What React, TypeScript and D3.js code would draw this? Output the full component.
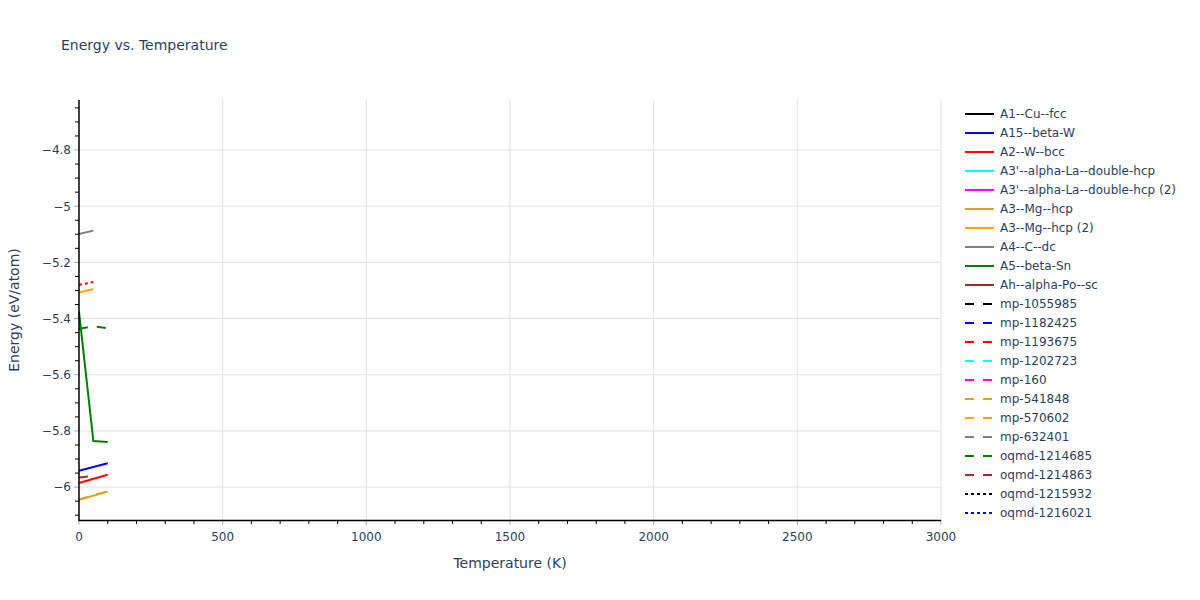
import { useEffect, useRef } from 'react'
import * as d3 from 'd3'

// Legend entries (order as shown in the reference legend)
const legendNames = [
    'A1--Cu--fcc',
    'A15--beta-W',
    'A2--W--bcc',
    "A3'--alpha-La--double-hcp",
    "A3'--alpha-La--double-hcp (2)",
    'A3--Mg--hcp',
    'A3--Mg--hcp (2)',
    'A4--C--dc',
    'A5--beta-Sn',
    'Ah--alpha-Po--sc',
    'mp-1055985',
    'mp-1182425',
    'mp-1193675',
    'mp-1202723',
    'mp-160',
    'mp-541848',
    'mp-570602',
    'mp-632401',
    'oqmd-1214685',
    'oqmd-1214863',
    'oqmd-1215932',
    'oqmd-1216021',
]
const palette = ['black', 'blue', 'red', 'cyan', 'magenta', 'goldenrod', 'orange', 'gray', 'green', 'brown']
const legendDash = [
    ...Array(10).fill('solid'),
    ...Array(10).fill('dash'),
    'dot',
    'dot',
]
const legendColors = legendNames.map((_, i) => palette[i % 10])

// Temperatures (K)
const tShort = [0, 50]
const tLong = [0, 100]
const tThree = [0, 50, 100]

// Energies (eV/atom)
const a15Energy = [-5.942, -5.915]
const a2Energy = [-5.985, -5.956]
const a3MgEnergy = [-6.045, -6.016]
const a3Mg2Energy = [-5.307, -5.295]
const a4Energy = [-5.099, -5.087]
const a5Energy = [-5.375, -5.836, -5.839]
const mp541848Energy = [-6.044, -6.015]
const oqmd1214685Energy = [-5.436, -5.428, -5.434]
const oqmd1214863Energy = [-5.966, -5.96]
const redDotEnergy = [-5.28, -5.27]

const traces = [
    { name: 'A15--beta-W', color: 'blue', dash: 'solid', t: tLong, e: a15Energy },
    { name: 'A2--W--bcc', color: 'red', dash: 'solid', t: tLong, e: a2Energy },
    { name: 'A3--Mg--hcp', color: 'goldenrod', dash: 'solid', t: tLong, e: a3MgEnergy },
    { name: 'A3--Mg--hcp (2)', color: 'orange', dash: 'solid', t: tShort, e: a3Mg2Energy },
    { name: 'A4--C--dc', color: 'gray', dash: 'solid', t: tShort, e: a4Energy },
    { name: 'A5--beta-Sn', color: 'green', dash: 'solid', t: tThree, e: a5Energy },
    { name: 'mp-541848', color: 'goldenrod', dash: 'dash', t: tLong, e: mp541848Energy },
    { name: 'oqmd-1214685', color: 'green', dash: 'dash', t: tThree, e: oqmd1214685Energy },
    { name: 'oqmd-1214863', color: 'brown', dash: 'dash', t: tShort, e: oqmd1214863Energy },
    { name: 'oqmd (red dot)', color: 'red', dash: 'dot', t: tShort, e: redDotEnergy },
]

const xTicks = [0, 500, 1000, 1500, 2000, 2500, 3000]
const yTicks = [-4.8, -5, -5.2, -5.4, -5.6, -5.8, -6]

const dashArray = (d: string) =>
    d === 'dash' ? '9px,9px' : d === 'dot' ? '3px,3px' : null

const App = () => {
    const ref = useRef<SVGSVGElement>(null)

    useEffect(() => {
        document.body.style.margin = '0'
        const width = 1200
        const height = 600
        const left = 79
        const right = 941
        const top = 100
        const bottom = 520
        const textColor = '#2a3f5f'
        const font = '"DejaVu Sans", verdana, sans-serif'

        const svg = d3.select(ref.current)
        svg.selectAll('*').remove()
        svg.attr('width', width)
            .attr('height', height)
            .style('display', 'block')
            .style('font-family', font)
            .style('background', 'white')

        const x = d3.scaleLinear().domain([0, 3000]).range([left, right])
        const y = d3.scaleLinear().domain([-6.117, -4.622]).range([bottom, top])

        // Grid lines
        const grid = svg.append('g').attr('stroke', '#e2e2e2').attr('stroke-width', 1)
        grid.selectAll('line.gx')
            .data(xTicks.slice(1))
            .join('line')
            .attr('x1', (d) => x(d))
            .attr('x2', (d) => x(d))
            .attr('y1', top)
            .attr('y2', bottom)
        grid.selectAll('line.gy')
            .data(yTicks)
            .join('line')
            .attr('x1', left)
            .attr('x2', right)
            .attr('y1', (d) => y(d))
            .attr('y2', (d) => y(d))

        // Minor ticks
        const xMinor = d3.range(0, 3001, 100).filter((v) => v % 500 !== 0)
        const yMinor = d3.range(-6.1, -4.6, 0.05).filter(
            (v) => Math.abs(v * 5 - Math.round(v * 5)) > 1e-6,
        )
        svg.append('g')
            .attr('stroke', '#000')
            .attr('stroke-width', 1)
            .selectAll('line')
            .data(xMinor)
            .join('line')
            .attr('x1', (d) => x(d))
            .attr('x2', (d) => x(d))
            .attr('y1', bottom)
            .attr('y2', bottom + 4)
        svg.append('g')
            .attr('stroke', '#000')
            .attr('stroke-width', 1)
            .selectAll('line')
            .data(yMinor.filter((v) => y(v) >= top && y(v) <= bottom))
            .join('line')
            .attr('x1', left - 4)
            .attr('x2', left)
            .attr('y1', (d) => y(d))
            .attr('y2', (d) => y(d))

        // Major ticks
        svg.append('g')
            .attr('stroke', '#aaa')
            .attr('stroke-width', 1)
            .selectAll('line')
            .data(xTicks)
            .join('line')
            .attr('x1', (d) => x(d))
            .attr('x2', (d) => x(d))
            .attr('y1', bottom)
            .attr('y2', bottom + 5)
        svg.append('g')
            .attr('stroke', '#aaa')
            .attr('stroke-width', 1)
            .selectAll('line')
            .data(yTicks)
            .join('line')
            .attr('x1', left - 5)
            .attr('x2', left)
            .attr('y1', (d) => y(d))
            .attr('y2', (d) => y(d))

        // Tick labels
        svg.append('g')
            .selectAll('text')
            .data(xTicks)
            .join('text')
            .attr('x', (d) => x(d))
            .attr('y', bottom + 21)
            .attr('text-anchor', 'middle')
            .attr('fill', textColor)
            .style('font-size', '12px')
            .text((d) => String(d))
        svg.append('g')
            .selectAll('text')
            .data(yTicks)
            .join('text')
            .attr('x', left - 8)
            .attr('y', (d) => y(d))
            .attr('dy', '0.36em')
            .attr('text-anchor', 'end')
            .attr('fill', textColor)
            .style('font-size', '12px')
            .text((d) => String(d).replace('-', '\u2212'))

        // Traces
        const line = d3
            .line<[number, number]>()
            .x((d) => x(d[0]))
            .y((d) => y(d[1]))
        const plot = svg.append('g')
        traces.forEach((tr) => {
            plot.append('path')
                .datum(tr.t.map((t, i) => [t, tr.e[i]] as [number, number]))
                .attr('d', line)
                .attr('fill', 'none')
                .attr('stroke', tr.color)
                .attr('stroke-width', 2)
                .attr('stroke-dasharray', dashArray(tr.dash))
        })

        // Axis lines
        svg.append('line')
            .attr('x1', left)
            .attr('x2', left)
            .attr('y1', top)
            .attr('y2', bottom + 0.5)
            .attr('stroke', '#000')
            .attr('stroke-width', 1.5)
        svg.append('line')
            .attr('x1', left - 0.5)
            .attr('x2', right)
            .attr('y1', bottom + 0.5)
            .attr('y2', bottom + 0.5)
            .attr('stroke', '#000')
            .attr('stroke-width', 1.5)

        // Titles
        svg.append('text')
            .attr('x', 61)
            .attr('y', 50)
            .attr('fill', textColor)
            .style('font-size', '14px')
            .text('Energy vs. Temperature')
        svg.append('text')
            .attr('x', (left + right) / 2)
            .attr('y', 568)
            .attr('text-anchor', 'middle')
            .attr('fill', textColor)
            .style('font-size', '14px')
            .text('Temperature (K)')
        svg.append('text')
            .attr('transform', `translate(19,${(top + bottom) / 2}) rotate(-90)`)
            .attr('text-anchor', 'middle')
            .attr('fill', textColor)
            .style('font-size', '14px')
            .text('Energy (eV/atom)')

        // Legend
        const legend = svg
            .append('g')
            .selectAll('g')
            .data(legendNames)
            .join('g')
            .attr('transform', (_, i) => `translate(965,${114 + i * 19})`)
        legend
            .append('line')
            .attr('x1', 0)
            .attr('x2', 29)
            .attr('stroke', (_, i) => legendColors[i])
            .attr('stroke-width', 2)
            .attr('stroke-dasharray', (_, i) => dashArray(legendDash[i]))
        legend
            .append('text')
            .attr('x', 35)
            .attr('dy', '0.36em')
            .attr('fill', textColor)
            .style('font-size', '12px')
            .text((d) => d)
    }, [])

    return <svg ref={ref} />
}

export default App
